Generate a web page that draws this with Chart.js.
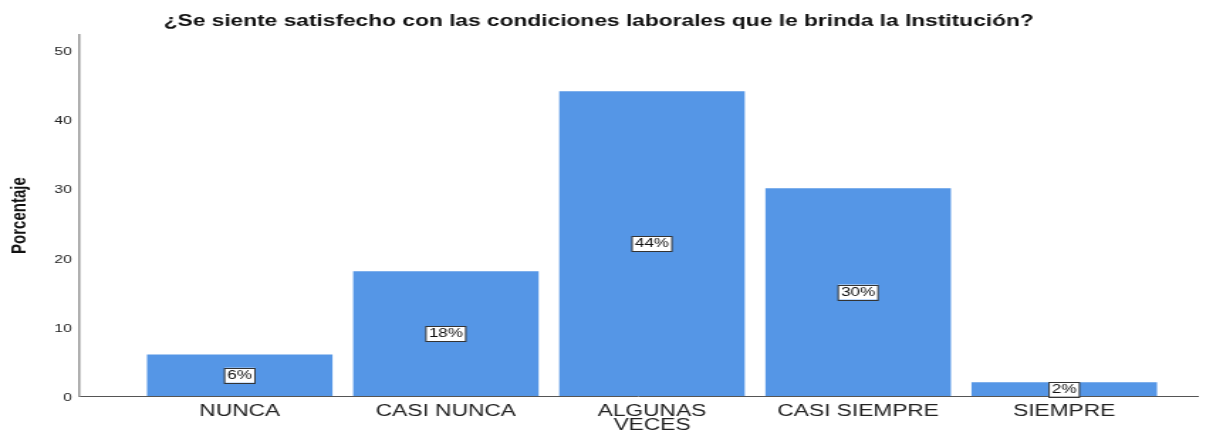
<!DOCTYPE html>
<html>
<head>
<meta charset="utf-8">
<script src="https://cdn.jsdelivr.net/npm/chart.js@4/dist/chart.umd.min.js"></script>
<style>
  html, body { margin: 0; padding: 0; background: #fff; overflow: hidden; }
  #wrap { width: 1213px; height: 431px; }
  /* el original está estirado en horizontal */
  #chart { transform: scaleX(1.4204); transform-origin: 0 0; }
</style>
</head>
<body>
<div id="wrap"><canvas id="chart" width="854" height="431"></canvas></div>
<script>
// Datos
const TITULO = '¿Se siente satisfecho con las condiciones laborales que le brinda la Institución?';
const categorias = ['NUNCA', 'CASI NUNCA', ['ALGUNAS', 'VECES'], 'CASI SIEMPRE', 'SIEMPRE'];
const porcentajes = [6, 18, 44, 30, 2];
const etiquetasY = [0, 10, 20, 30, 40, 50];

const FUENTE = '"Liberation Sans", Arial, sans-serif';
const AZUL = 'rgb(85, 150, 230)';

// Etiquetas de porcentaje dentro de las barras (caja blanca con borde)
const etiquetasBarras = {
    id: 'etiquetasBarras',
    afterDatasetsDraw(chart) {
        const ctx = chart.ctx;
        const yScale = chart.scales.y;
        const meta = chart.getDatasetMeta(0);
        ctx.save();
        ctx.font = '12px ' + FUENTE;
        ctx.textAlign = 'center';
        ctx.textBaseline = 'middle';
        meta.data.forEach((bar, i) => {
            const texto = porcentajes[i] + '%';
            const cy = yScale.getPixelForValue(porcentajes[i] / 2);
            const w = ctx.measureText(texto).width + 4;
            const h = 15;
            ctx.fillStyle = '#fff';
            ctx.fillRect(bar.x - w / 2, cy - h / 2, w, h);
            ctx.strokeStyle = '#333';
            ctx.lineWidth = 1;
            ctx.strokeRect(bar.x - w / 2, Math.round(cy - h / 2) + 0.5, w, h);
            ctx.fillStyle = '#111';
            ctx.fillText(texto, bar.x, cy + 0.5);
        });
        ctx.restore();
    }
};

new Chart(document.getElementById('chart').getContext('2d'), {
    type: 'bar',
    data: {
        datasets: [{
            data: porcentajes.map((v, i) => ({ x: i, y: v })),
            backgroundColor: AZUL,
            borderWidth: 0,
            barPercentage: 0.9,
            categoryPercentage: 1.0
        }]
    },
    options: {
        responsive: false,
        animation: false,
        layout: { padding: { left: 0, right: 11, top: 0, bottom: 0 } },
        plugins: {
            legend: { display: false },
            tooltip: { enabled: false },
            title: {
                display: true,
                text: TITULO,
                color: '#111',
                font: { family: FUENTE, size: 16, weight: 'bold' },
                padding: { top: 12, bottom: 4 }
            }
        },
        scales: {
            x: {
                type: 'linear',
                offset: false,
                min: -0.78,
                max: 4.646,
                grid: { display: false, drawTicks: false },
                border: { display: true, color: '#555', width: 1 },
                afterFit(scale) { scale.height = 35; },
                afterBuildTicks(scale) {
                    scale.ticks = categorias.map((c, i) => ({ value: i }));
                },
                ticks: {
                    autoSkip: false,
                    maxRotation: 0,
                    padding: 9,
                    color: '#222',
                    font: { family: FUENTE, size: 16, lineHeight: 0.85 },
                    callback: (v) => categorias[v]
                }
            },
            y: {
                min: 0,
                max: 52.1,
                grid: { display: false, drawTicks: false },
                border: { display: true, color: '#999', width: 1.5 },
                afterFit(scale) { scale.width = 55.6; },
                afterBuildTicks(scale) {
                    scale.ticks = etiquetasY.map(v => ({ value: v }));
                },
                ticks: {
                    padding: 5,
                    labelOffset: 2,
                    color: '#222',
                    font: { family: FUENTE, size: 11 }
                },
                title: {
                    display: true,
                    text: 'Porcentaje',
                    color: '#111',
                    font: { family: '"Liberation Sans Narrow", ' + FUENTE, size: 15, weight: 'bold' },
                    padding: { top: 5, bottom: 0 }
                }
            }
        }
    },
    plugins: [etiquetasBarras]
});
</script>
</body>
</html>
